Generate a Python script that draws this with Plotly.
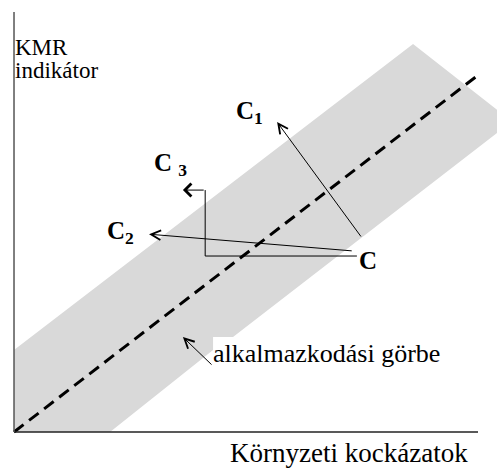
import plotly.graph_objects as go

# Conceptual chart: axes scaled 0-100 on both dimensions
band_x = [0, 0, 86.0, 104.1, 104.1, 47.2, 42.9, 42.9, 20.7, 0]
band_y = [0, 19.5, 92.4, 76.7, 71.2, 22.6, 22.6, 19.5, 0, 0]

curve_x = [0, 99.8]
curve_y = [0, 84.8]

axis_x_line = [0, 100]
axis_y_line = [0, 100]

# C point and the three moves
c_tail = (75.0, 46.2)
c1_tip = (56.7, 73.8)
c2_tail = (73.1, 43.1)
c2_tip = (29.1, 47.1)
c3_path_x = [73.9, 41.2, 41.2]
c3_path_y = [41.9, 41.9, 57.6]
c3_tip = (36.4, 57.6)
curve_label_tail = (42.9, 15.7)
curve_label_tip = (36.4, 22.6)

# (text, x, y, font size)
labels = [
    ("KMR", 0.0, 91.6, 23),
    ("indikátor", 0.0, 86.0, 23),
    ("<b>C<sub>1</sub></b>", 47.6, 76.0, 25),
    ("<b>C <sub>3</sub></b>", 30.0, 63.8, 25),
    ("<b>C<sub>2</sub></b>", 19.8, 47.6, 25),
    ("<b>C</b>", 74.2, 40.8, 25),
    ("alkalmazkodási görbe", 42.6, 18.6, 26),
    ("Környzeti kockázatok", 46.4, -5.0, 27),
]

FONT = "Liberation Serif, Times New Roman, serif"

fig = go.Figure()
fig.add_trace(go.Scatter(x=band_x, y=band_y, fill="toself", fillcolor="#d9d9d9",
                         mode="none", hoverinfo="skip"))
fig.add_trace(go.Scatter(x=curve_x, y=curve_y, mode="lines",
                         line=dict(color="black", width=3, dash="12px,7px"), hoverinfo="skip"))
fig.add_trace(go.Scatter(x=axis_x_line, y=[0, 0], mode="lines",
                         line=dict(color="#222", width=1.5), hoverinfo="skip"))
fig.add_trace(go.Scatter(x=[0, 0], y=axis_y_line, mode="lines",
                         line=dict(color="#555", width=1.5), hoverinfo="skip"))
fig.add_trace(go.Scatter(x=c3_path_x, y=c3_path_y, mode="lines",
                         line=dict(color="black", width=1), hoverinfo="skip"))

def arrow(tip, tail, width=1, size=1.9, head=5):
    fig.add_annotation(x=tip[0], y=tip[1], ax=tail[0], ay=tail[1],
                       xref="x", yref="y", axref="x", ayref="y", text="",
                       showarrow=True, arrowhead=head, arrowsize=size,
                       arrowwidth=width, arrowcolor="black")

arrow(c1_tip, c_tail)
arrow(c2_tip, c2_tail)
arrow(curve_label_tip, curve_label_tail)
arrow(c3_tip, (c3_path_x[-1], c3_path_y[-1]), width=1, size=2.5, head=4)

for txt, x, y, size in labels:
    fig.add_annotation(x=x, y=y, xref="x", yref="y", text=txt, showarrow=False,
                       xanchor="left", yanchor="middle", borderpad=0,
                       font=dict(family=FONT, size=size, color="black"))

fig.update_layout(
    width=497, height=469, margin=dict(l=0, r=0, t=0, b=0),
    paper_bgcolor="white", plot_bgcolor="white", showlegend=False,
    xaxis=dict(range=[-3.02, 104.09], visible=False, fixedrange=True),
    yaxis=dict(range=[-8.81, 102.86], visible=False, fixedrange=True),
)
fig.write_html("out.html", config={"displayModeBar": False},
               post_script="document.body.style.margin='0px';")
